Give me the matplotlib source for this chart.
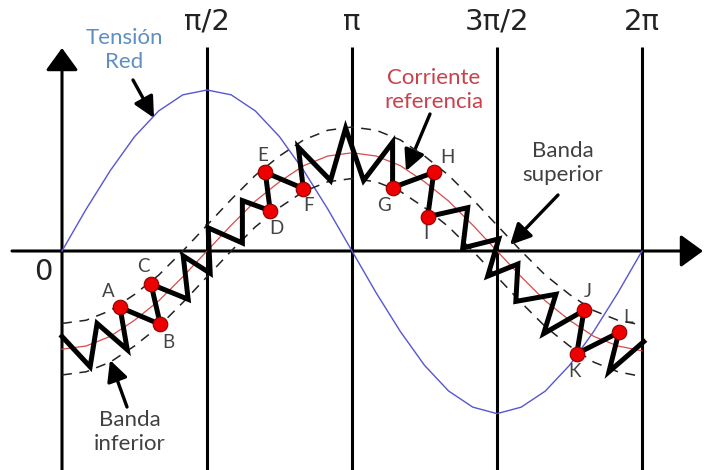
import numpy as np
import matplotlib.pyplot as plt

# angulo de muestreo (en unidades de pi)
theta = [k / 12 for k in range(25)]

# tension de red (normalizada) y corriente de referencia
tension_red = [0.00, 0.26, 0.50, 0.71, 0.87, 0.97, 1.00, 0.97, 0.87, 0.71, 0.50, 0.26, 0.00,
               -0.26, -0.50, -0.71, -0.87, -0.97, -1.01, -0.97, -0.87, -0.71, -0.50, -0.26, 0.00]
corriente_ref = [-0.61, -0.59, -0.53, -0.43, -0.31, -0.16, 0.00, 0.16, 0.31, 0.43, 0.53, 0.59, 0.61,
                 0.59, 0.53, 0.43, 0.31, 0.16, 0.00, -0.16, -0.31, -0.43, -0.53, -0.59, -0.62]
banda = 0.16  # ancho de la banda de histeresis

zig_x = [0.000, 0.097, 0.121, 0.225, 0.200, 0.339, 0.307, 0.435, 0.418, 0.511, 0.504, 0.622,
         0.622, 0.718, 0.701, 0.832, 0.815, 0.926, 0.978, 1.040, 1.140, 1.140, 1.282, 1.261,
         1.399, 1.382, 1.506, 1.468, 1.572, 1.565, 1.703, 1.661, 1.800, 1.775, 1.920, 1.886, 2.006]
zig_y = [-0.531, -0.719, -0.450, -0.613, -0.350, -0.456, -0.206, -0.300, -0.031, -0.138, 0.144, 0.050,
         0.313, 0.250, 0.488, 0.388, 0.644, 0.438, 0.763, 0.438, 0.675, 0.394, 0.488, 0.213,
         0.269, 0.019, 0.075, -0.156, -0.081, -0.313, -0.269, -0.513, -0.369, -0.638, -0.506, -0.750, -0.563]

# puntos marcados sobre el zig-zag
letras = ['A', 'B', 'C', 'D', 'E', 'F', 'G', 'H', 'I', 'J', 'K', 'L']
indices = [4, 5, 6, 13, 14, 15, 21, 22, 23, 32, 33, 34]
offsets = [(-12, 16), (8, -18), (-8, 18), (6, -18), (-3, 17), (5, -17),
           (-9, -18), (14, 15), (-2, -17), (4, 19), (-2, -18), (9, 15)]

ticks = [0.5, 1.0, 1.5, 2.0]
tick_labels = ['π/2', 'π', '3π/2', '2π']


def px(x, y):
    """Convierte pixeles de la imagen a coordenadas de datos."""
    return ((x - 62) / 290.0, (251 - y) / 161.0)


fig = plt.figure(figsize=(7.05, 4.70), dpi=100)
ax = fig.add_axes([0, 0, 1, 1])
ax.set_xlim(-62 / 290.0, (705 - 62) / 290.0)
ax.set_ylim((251 - 470) / 161.0, 251 / 161.0)
ax.axis('off')

axis_arrow = dict(arrowstyle='-|>,head_length=0.55,head_width=0.4', lw=2.2, color='black',
                  mutation_scale=25, shrinkA=0, shrinkB=0)
ax.annotate('', xy=px(703, 251), xytext=px(12, 251), arrowprops=axis_arrow,
            annotation_clip=False)
ax.annotate('', xy=px(62, 48), xytext=px(62, 475), arrowprops=axis_arrow,
            annotation_clip=False)

ax.vlines(ticks, px(0, 475)[1], px(0, 47)[1], colors='black', lw=2.2)
for t, lab in zip(ticks, tick_labels):
    ax.text(t, px(0, 22)[1], lab, ha='center', va='center', fontsize=21, color='#222222')
ax.text(*px(43, 272), '0', ha='center', va='center', fontsize=21, color='#222222')

th = np.array(theta)
ref = np.array(corriente_ref)
ax.plot(th, tension_red, color='#5656d2', lw=1.0, zorder=3)
ax.plot(th, ref, color='#d84a4a', lw=0.9, zorder=3)
ax.plot(th, ref + banda, color='#222222', lw=1.1, ls=(0, (6.5, 5)), zorder=4)
ax.plot(th, ref - banda, color='#222222', lw=1.1, ls=(0, (6.5, 5)), zorder=4)

ax.plot(zig_x, zig_y, color='black', lw=3.6, solid_joinstyle='miter', zorder=5)

for letra, i, off in zip(letras, indices, offsets):
    ax.plot(zig_x[i], zig_y[i], 'o', ms=10.5, mfc='#ee0000', mec='#8a0000', mew=0.8, zorder=6)
    ax.annotate(letra, (zig_x[i], zig_y[i]), xytext=(off[0] * 0.72, off[1] * 0.72),
                textcoords='offset points', ha='center', va='center',
                fontsize=13.5, family='Lato', color='#444444')

flecha = dict(arrowstyle='-|>,head_length=0.7,head_width=0.35', lw=2.4, color='black',
              mutation_scale=18, shrinkA=0, shrinkB=0)
ax.text(*px(124, 50), 'Tensión\nRed', ha='center', va='center', fontsize=16, family='Lato',
        color='#5f8fc0', linespacing=1.2)
ax.annotate('', xy=px(154, 118), xytext=px(133, 80), arrowprops=flecha)

ax.text(*px(434, 90), 'Corriente\nreferencia', ha='center', va='center', fontsize=16,
        family='Lato', color='#c8414b', linespacing=1.2)
ax.annotate('', xy=px(406, 171), xytext=px(430, 114), arrowprops=flecha)

ax.text(*px(563, 163), 'Banda\nsuperior', ha='center', va='center', fontsize=16,
        family='Lato', color='#404040', linespacing=1.2)
ax.annotate('', xy=px(510, 245), xytext=px(558, 195), arrowprops=flecha)

ax.text(*px(130, 432), 'Banda\ninferior', ha='center', va='center', fontsize=16,
        family='Lato', color='#404040', linespacing=1.2)
ax.annotate('', xy=px(110, 360), xytext=px(127, 407), arrowprops=flecha)

fig.savefig('out.png', dpi=100)
